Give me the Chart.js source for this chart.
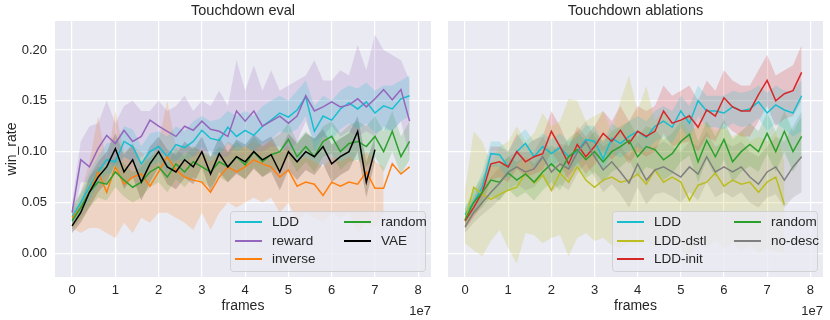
<!DOCTYPE html>
<html>
<head>
<meta charset="utf-8">
<script src="https://cdn.jsdelivr.net/npm/chart.js@4.4.0/dist/chart.umd.min.js"></script>
<style>
body { margin: 0; background: #fff; }
#wrap { position: relative; width: 830px; height: 320px; }
#evalChart { position: absolute; left: 0; top: 0; }
#ablChart { position: absolute; left: 435px; top: 0; }
</style>
</head>
<body>
<div id="wrap">
  <canvas id="evalChart" width="435" height="320" style="width:435px;height:320px"></canvas>
  <canvas id="ablChart" width="395" height="320" style="width:395px;height:320px"></canvas>
</div>
<script>
// frames, one point every 2e6
var frames = [0, 2e6, 4e6, 6e6, 8e6, 10e6, 12e6, 14e6, 16e6, 18e6,
  20e6, 22e6, 24e6, 26e6, 28e6, 30e6, 32e6, 34e6, 36e6, 38e6,
  40e6, 42e6, 44e6, 46e6, 48e6, 50e6, 52e6, 54e6, 56e6, 58e6,
  60e6, 62e6, 64e6, 66e6, 68e6, 70e6, 72e6, 74e6, 76e6, 78e6];

var xTicks = [0, 1, 2, 3, 4, 5, 6, 7, 8];
var yTicks = [0.00, 0.05, 0.10, 0.15, 0.20];

// ---- Touchdown eval ----
var lddMean = [.036,.05,.065,.08,.092,.09,.11,.105,.088,.1, .105,.095,.107,.104,.11,.121,.113,.111,.124,.115, .121,.116,.125,.131,.138,.134,.141,.154,.12,.135, .131,.142,.148,.142,.149,.138,.145,.142,.152,.155];
var lddHi = [.045,.06,.08,.095,.108,.11,.125,.122,.105,.118, .12,.115,.125,.12,.13,.135,.13,.132,.14,.135, .14,.135,.145,.15,.155,.15,.16,.17,.145,.155, .15,.16,.165,.162,.168,.16,.165,.165,.17,.175];
var lddLo = [.028,.04,.052,.068,.078,.078,.095,.09,.075,.085, .09,.08,.092,.09,.095,.105,.098,.095,.108,.1, .105,.1,.108,.112,.12,.118,.122,.135,.1,.115, .112,.122,.128,.122,.128,.118,.122,.12,.13,.135];

var rewardMean = [.04,.092,.085,.103,.116,.108,.121,.11,.115,.131, .125,.12,.115,.125,.121,.13,.122,.12,.115,.14, .13,.14,.125,.13,.135,.128,.135,.155,.14,.144, .149,.144,.146,.152,.144,.152,.161,.151,.161,.13];
var rewardHi = [.05,.11,.125,.128,.15,.128,.145,.15,.14,.14, .15,.14,.145,.155,.14,.15,.145,.16,.145,.19, .16,.185,.16,.18,.16,.165,.17,.175,.19,.17, .17,.18,.175,.205,.18,.215,.2,.195,.19,.17];
var rewardLo = [.03,.07,.07,.08,.09,.085,.095,.09,.095,.1, .1,.095,.09,.1,.095,.1,.1,.095,.095,.105, .105,.1,.1,.105,.105,.1,.11,.13,.11,.115, .125,.115,.12,.115,.12,.115,.125,.12,.13,.095];

var inverseMean = [.035,.045,.06,.08,.06,.085,.068,.075,.078,.066, .08,.095,.082,.075,.072,.07,.06,.075,.085,.08, .085,.092,.088,.085,.075,.082,.066,.07,.068,.057, .07,.066,.07,.068,.08,.064,.064,.088,.078,.085];
var inverseHi = [.045,.06,.09,.135,.09,.14,.10,.105,.10,.09, .11,.15,.105,.105,.105,.10,.09,.10,.11,.105, .105,.11,.105,.11,.10,.105,.09,.095,.09,.085, .095,.09,.095,.09,.10,.09,.085,null,null,null];
var inverseLo = [.025,.02,.025,.025,.02,.015,.03,.02,.035,.03, .04,.04,.035,.03,.023,.04,.023,.04,.05,.045, .05,.055,.05,.055,.04,.05,.03,.04,.035,.03, .04,.035,.04,.02,.03,.025,.04,null,null,null];

var randomMean = [.032,.045,.06,.07,.068,.08,.072,.065,.07,.08, .085,.075,.088,.08,.09,.085,.08,.09,.085,.095, .087,.1,.09,.097,.1,.112,.095,.105,.095,.11, .115,.1,.108,.11,.105,.115,.1,.12,.095,.11];
var randomHi = [.04,.058,.075,.085,.085,.095,.088,.08,.085,.095, .1,.09,.103,.095,.105,.1,.095,.105,.1,.11, .103,.115,.105,.112,.117,.128,.11,.12,.112,.125, .13,.118,.126,.13,.125,.135,.12,.14,.115,.13];
var randomLo = [.024,.034,.045,.055,.052,.065,.056,.05,.055,.065, .07,.06,.073,.065,.075,.07,.065,.075,.07,.08, .072,.085,.075,.082,.083,.095,.08,.09,.08,.095, .098,.082,.09,.092,.085,.095,.08,.1,.078,.092];

var vaeMean = [.027,.04,.06,.075,.085,.103,.08,.092,.07,.088, .1,.085,.08,.092,.085,.1,.078,.098,.085,.095, .09,.1,.092,.097,.08,.1,.09,.1,.095,.105, .088,.095,.1,.12,.07,.102,null,null,null,null];
var vaeHi = [.035,.05,.075,.09,.1,.118,.097,.108,.088,.105, .115,.102,.097,.11,.102,.115,.095,.115,.1,.112, .107,.117,.11,.115,.1,.118,.108,.118,.113,.122, .107,.113,.118,.135,.09,.115,null,null,null,null];
var vaeLo = [.02,.03,.045,.06,.07,.088,.063,.075,.052,.07, .085,.068,.063,.074,.068,.085,.06,.08,.07,.078, .073,.083,.075,.08,.062,.082,.072,.082,.077,.088, .07,.077,.082,.1,.055,.09,null,null,null,null];

// ---- Touchdown ablations ----
var abLddMean = [.038,.05,.065,.098,.097,.085,.1,.108,.095,.105, .098,.104,.095,.1,.112,.11,.093,.113,.108,.115, .12,.114,.125,.13,.124,.14,.128,.15,.14,.14, .138,.144,.14,.142,.149,.138,.146,.141,.138,.155];
var abLddHi = [.046,.06,.08,.11,.11,.1,.115,.122,.11,.118, .112,.118,.11,.115,.126,.125,.108,.128,.122,.13, .135,.13,.14,.145,.14,.155,.145,.165,.155,.155, .155,.16,.158,.16,.165,.158,.165,.16,.16,.17];
var abLddLo = [.03,.04,.052,.085,.085,.072,.087,.095,.082,.092, .085,.09,.082,.087,.098,.096,.08,.098,.094,.1, .105,.1,.11,.115,.108,.124,.112,.135,.124,.124, .122,.128,.124,.126,.133,.12,.128,.122,.115,.12];

var dstlMean = [.032,.065,.058,.053,.058,.062,.065,.079,.069,.077, .062,.079,.07,.085,.072,.065,.072,.075,.07,.072, .078,.068,.082,.07,.075,.07,.052,.067,.07,.079, .066,.072,.068,.07,.06,.07,.075,.048,null,null];
var dstlHi = [.062,.12,.11,.088,.105,.11,.125,.11,.118,.138, .125,.13,.152,.15,.13,.135,.14,.12,.15,.175, .14,.165,.13,.14,.125,.13,.12,.125,.13,.12, .125,.115,.12,.11,.115,.11,.12,.09,null,null];
var dstlLo = [.01,.003,-.003,.012,.023,.005,-.01,.02,.018,.01, .015,.018,-.003,.015,.02,.012,.015,.008,.005,.01, .008,.012,.006,.01,.015,.005,-.005,.01,.005,.012, .005,.01,.002,.008,0,.005,.002,0,null,null];

var initMean = [.032,.045,.06,.088,.09,.085,.1,.09,.095,.098, .12,.105,.088,.107,.095,.105,.118,.11,.121,.108, .12,.115,.12,.14,.128,.131,.135,.124,.141,.135, .153,.144,.14,.14,.156,.17,.15,.157,.16,.178];
var initHi = [.04,.055,.072,.105,.105,.1,.118,.105,.112,.115, .14,.125,.105,.125,.115,.125,.14,.13,.145,.13, .145,.14,.145,.165,.155,.16,.165,.15,.17,.16, .18,.17,.165,.165,.18,.195,.175,.18,.185,.205];
var initLo = [.024,.035,.048,.072,.075,.07,.083,.075,.078,.082, .1,.087,.072,.09,.078,.087,.1,.092,.1,.088, .1,.095,.1,.118,.105,.108,.11,.1,.115,.11, .128,.12,.115,.115,.13,.145,.125,.132,.135,.15];

var abRandomMean = [.033,.05,.06,.072,.07,.079,.072,.078,.07,.08, .088,.08,.095,.102,.092,.1,.09,.1,.105,.111, .095,.105,.102,.092,.098,.11,.117,.09,.111,.095, .112,.09,.1,.107,.1,.118,.1,.12,.1,.115];
var abRandomHi = [.043,.062,.075,.088,.088,.095,.09,.095,.088,.098, .106,.1,.113,.12,.11,.12,.11,.12,.125,.13, .115,.125,.122,.112,.118,.13,.138,.11,.13,.115, .132,.112,.12,.128,.12,.138,.12,.14,.12,.135];
var abRandomLo = [.025,.038,.045,.056,.052,.063,.055,.06,.052,.062, .07,.062,.077,.084,.074,.08,.07,.08,.085,.092, .075,.085,.082,.072,.078,.09,.096,.07,.092,.075, .092,.07,.08,.086,.08,.098,.08,.1,.08,.095];

var noDescMean = [.026,.04,.05,.06,.069,.08,.085,.08,.083,.095, .08,.088,.083,.099,.11,.095,.082,.09,.08,.069, .088,.072,.082,.085,.08,.075,.085,.078,.095,.08, .085,.08,.085,.075,.068,.08,.085,.072,.085,.095];
var noDescHi = [.034,.052,.065,.075,.085,.095,.1,.1,.1,.115, .1,.108,.105,.12,.13,.115,.105,.11,.105,.095, .11,.1,.105,.11,.105,.1,.11,.105,.12,.105, .11,.105,.11,.1,.095,.105,.115,.11,.125,.14];
var noDescLo = [.02,.03,.038,.045,.053,.063,.068,.062,.065,.075, .06,.068,.062,.078,.088,.075,.06,.068,.058,.045, .065,.048,.058,.06,.056,.05,.06,.052,.07,.055, .06,.055,.06,.05,.045,.055,.058,.045,.055,.06];

var evalSeries = [
  { label: 'LDD', color: '#17becf', mean: lddMean, lo: lddLo, hi: lddHi },
  { label: 'reward', color: '#9467bd', mean: rewardMean, lo: rewardLo, hi: rewardHi },
  { label: 'inverse', color: '#ff7f0e', mean: inverseMean, lo: inverseLo, hi: inverseHi },
  { label: 'random', color: '#2ca02c', mean: randomMean, lo: randomLo, hi: randomHi },
  { label: 'VAE', color: '#000000', mean: vaeMean, lo: vaeLo, hi: vaeHi }
];
var ablSeries = [
  { label: 'LDD', color: '#17becf', mean: abLddMean, lo: abLddLo, hi: abLddHi },
  { label: 'LDD-dstl', color: '#bcbd22', mean: dstlMean, lo: dstlLo, hi: dstlHi },
  { label: 'LDD-init', color: '#d62728', mean: initMean, lo: initLo, hi: initHi },
  { label: 'random', color: '#2ca02c', mean: abRandomMean, lo: abRandomLo, hi: abRandomHi },
  { label: 'no-desc', color: '#7f7f7f', mean: noDescMean, lo: noDescLo, hi: noDescHi }
];

var FONT = '"Liberation Sans", Arial, sans-serif';
Chart.defaults.font.family = FONT;
Chart.defaults.color = '#262626';

function rgba(hex, a) {
  var n = parseInt(hex.slice(1), 16);
  return 'rgba(' + (n >> 16) + ',' + ((n >> 8) & 255) + ',' + (n & 255) + ',' + a + ')';
}

function pts(arr) {
  return arr.map(function (v, i) { return { x: frames[i], y: v }; });
}

function buildDatasets(series) {
  var ds = [];
  series.forEach(function (s, k) {
    var hiIdx = ds.length;
    ds.push({ data: pts(s.hi), borderWidth: 0, pointRadius: 0, fill: false, order: 100 + k });
    ds.push({ data: pts(s.lo), borderWidth: 0, pointRadius: 0, fill: hiIdx,
      backgroundColor: rgba(s.color, 0.2), order: 100 + k });
  });
  series.forEach(function (s, k) {
    ds.push({ label: s.label, data: pts(s.mean), borderColor: s.color, borderWidth: 1.5,
      pointRadius: 0, fill: false, order: series.length - k });
  });
  return ds;
}

// background, title, offset text and the two-column legend
var panelText = {
  id: 'panelText',
  beforeDraw: function (chart) {
    var a = chart.chartArea, ctx = chart.ctx;
    ctx.save();
    ctx.fillStyle = '#eaeaf2';
    ctx.fillRect(a.left, a.top, a.right - a.left, a.bottom - a.top);
    ctx.restore();
  },
  afterDraw: function (chart, args, o) {
    var a = chart.chartArea, ctx = chart.ctx;
    ctx.save();
    ctx.fillStyle = '#262626';
    ctx.textBaseline = 'middle';
    ctx.font = '14.5px ' + FONT;
    ctx.textAlign = 'center';
    ctx.fillText(o.title, (a.left + a.right) / 2, 11);
    ctx.font = '13px ' + FONT;
    ctx.textAlign = 'right';
    ctx.fillText('1e7', a.right, 311);

    var bw = o.legendW, bh = 60;
    var bx = a.right - 6 - bw, by = a.bottom - 6 - bh;
    ctx.beginPath();
    ctx.roundRect(bx + 0.5, by + 0.5, bw, bh, 3);
    ctx.fillStyle = 'rgba(234,234,242,0.8)';
    ctx.fill();
    ctx.strokeStyle = 'rgba(204,204,204,0.8)';
    ctx.lineWidth = 1;
    ctx.stroke();
    var rows = [11, 30, 48];
    ctx.font = '13.5px ' + FONT;
    ctx.textAlign = 'left';
    o.series.forEach(function (s, i) {
      var col = i < 3 ? 0 : 1, row = i < 3 ? i : i - 3;
      var lx = bx + 5 + col * o.col2, ly = by + rows[row];
      ctx.strokeStyle = s.color;
      ctx.lineWidth = 2;
      ctx.beginPath();
      ctx.moveTo(lx, ly);
      ctx.lineTo(lx + 27, ly);
      ctx.stroke();
      ctx.fillStyle = '#262626';
      ctx.fillText(s.label, lx + 37, ly);
    });
    ctx.restore();
  }
};

function makeChart(id, series, opts) {
  return new Chart(document.getElementById(id), {
    type: 'line',
    data: { datasets: buildDatasets(series) },
    plugins: [panelText],
    options: {
      responsive: false,
      animation: false,
      layout: { padding: { top: 21, right: opts.padRight, left: 0, bottom: 0 } },
      plugins: {
        legend: { display: false },
        tooltip: { enabled: false },
        panelText: { title: opts.title, series: series, legendW: opts.legendW, col2: opts.col2 }
      },
      scales: {
        x: {
          type: 'linear',
          min: -0.395e7,
          max: 8.295e7,
          afterBuildTicks: function (scale) {
            scale.ticks = xTicks.map(function (v) { return { value: v * 1e7 }; });
          },
          ticks: {
            padding: 6,
            font: { size: 13 },
            color: '#262626',
            callback: function (v) { return String(Math.round(v / 1e7)); }
          },
          grid: { color: '#ffffff', lineWidth: 1.2, drawTicks: false },
          border: { display: false },
          title: { display: true, text: 'frames', font: { size: 14 }, color: '#262626',
            padding: { top: 0, bottom: 5 } },
          afterFit: function (scale) { scale.height = 43; }
        },
        y: {
          min: -0.0233,
          max: 0.2285,
          afterBuildTicks: function (scale) {
            scale.ticks = yTicks.map(function (v) { return { value: v }; });
          },
          ticks: {
            display: opts.showY,
            padding: 8,
            font: { size: 13 },
            color: '#262626',
            callback: function (v) { return v.toFixed(2); }
          },
          grid: { color: '#ffffff', lineWidth: 1.2, drawTicks: false },
          border: { display: false },
          title: { display: opts.showY, text: 'win_rate', font: { size: 14 }, color: '#262626',
            padding: { top: 4, bottom: 0 } },
          afterFit: function (scale) { scale.width = opts.yWidth; }
        }
      }
    }
  });
}

makeChart('evalChart', evalSeries,
  { title: 'Touchdown eval', padRight: 4, yWidth: 55, showY: true, legendW: 195, col2: 109 });
makeChart('ablChart', ablSeries,
  { title: 'Touchdown ablations', padRight: 7, yWidth: 13, showY: false, legendW: 205, col2: 117 });
</script>
</body>
</html>
